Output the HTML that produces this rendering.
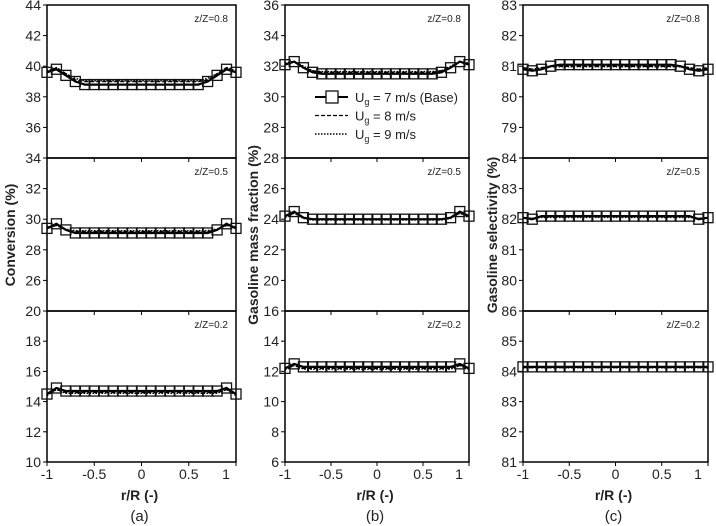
<!DOCTYPE html>
<html><head><meta charset="utf-8">
<style>
html,body{margin:0;padding:0;background:#fff;}
svg{display:block;font-family:"Liberation Sans",sans-serif;}
</style></head>
<body>
<svg id="chart" width="716" height="526" viewBox="0 0 716 526" xmlns="http://www.w3.org/2000/svg"></svg>
<script>
const rValues = [-1,-0.9,-0.8,-0.7,-0.6,-0.5,-0.4,-0.3,-0.2,-0.1,0,0.1,0.2,0.3,0.4,0.5,0.6,0.7,0.8,0.9,1];
const xTicks = [-1,-0.5,0,0.5,1];
const xTickLabels = ["-1","-0.5","0","0.5","1"];
const zLabels = ["z/Z=0.8","z/Z=0.5","z/Z=0.2"];
const convTopBase = [39.6,39.8,39.4,39.0,38.8,38.8,38.8,38.8,38.8,38.8,38.8,38.8,38.8,38.8,38.8,38.8,38.8,39.0,39.4,39.8,39.6];
const convTopU8 = [39.6,39.9,39.5,39.1,39.0,39.0,39.0,39.0,39.0,39.0,39.0,39.0,39.0,39.0,39.0,39.0,39.0,39.1,39.5,39.9,39.6];
const convTopU9 = [39.7,39.9,39.5,39.2,39.05,39.05,39.05,39.05,39.05,39.05,39.05,39.05,39.05,39.05,39.05,39.05,39.05,39.2,39.5,39.9,39.7];
const convMidBase = [29.4,29.7,29.3,29.1,29.1,29.1,29.1,29.1,29.1,29.1,29.1,29.1,29.1,29.1,29.1,29.1,29.1,29.1,29.3,29.7,29.4];
const convMidU8 = [29.4,29.6,29.3,29.2,29.2,29.2,29.2,29.2,29.2,29.2,29.2,29.2,29.2,29.2,29.2,29.2,29.2,29.2,29.3,29.6,29.4];
const convMidU9 = [29.5,29.6,29.35,29.25,29.25,29.25,29.25,29.25,29.25,29.25,29.25,29.25,29.25,29.25,29.25,29.25,29.25,29.25,29.35,29.6,29.5];
const convBotBase = [14.5,14.9,14.7,14.7,14.7,14.7,14.7,14.7,14.7,14.7,14.7,14.7,14.7,14.7,14.7,14.7,14.7,14.7,14.7,14.9,14.5];
const convBotU8 = [14.5,14.8,14.6,14.6,14.6,14.6,14.6,14.6,14.6,14.6,14.6,14.6,14.6,14.6,14.6,14.6,14.6,14.6,14.6,14.8,14.5];
const convBotU9 = [14.4,14.8,14.55,14.55,14.55,14.55,14.55,14.55,14.55,14.55,14.55,14.55,14.55,14.55,14.55,14.55,14.55,14.55,14.55,14.8,14.4];
const gasTopBase = [32.1,32.3,31.9,31.6,31.5,31.5,31.5,31.5,31.5,31.5,31.5,31.5,31.5,31.5,31.5,31.5,31.5,31.6,31.9,32.3,32.1];
const gasTopU8 = [32.1,32.3,31.9,31.7,31.6,31.6,31.6,31.6,31.6,31.6,31.6,31.6,31.6,31.6,31.6,31.6,31.6,31.7,31.9,32.3,32.1];
const gasTopU9 = [32.2,32.3,32.0,31.7,31.65,31.65,31.65,31.65,31.65,31.65,31.65,31.65,31.65,31.65,31.65,31.65,31.65,31.7,32.0,32.3,32.2];
const gasMidBase = [24.2,24.5,24.1,24.0,24.0,24.0,24.0,24.0,24.0,24.0,24.0,24.0,24.0,24.0,24.0,24.0,24.0,24.0,24.1,24.5,24.2];
const gasMidU8 = [24.2,24.4,24.1,24.0,24.0,24.0,24.0,24.0,24.0,24.0,24.0,24.0,24.0,24.0,24.0,24.0,24.0,24.0,24.1,24.4,24.2];
const gasMidU9 = [24.1,24.4,24.05,23.95,23.95,23.95,23.95,23.95,23.95,23.95,23.95,23.95,23.95,23.95,23.95,23.95,23.95,23.95,24.05,24.4,24.1];
const gasBotBase = [12.2,12.5,12.3,12.3,12.3,12.3,12.3,12.3,12.3,12.3,12.3,12.3,12.3,12.3,12.3,12.3,12.3,12.3,12.3,12.5,12.2];
const gasBotU8 = [12.2,12.4,12.2,12.2,12.2,12.2,12.2,12.2,12.2,12.2,12.2,12.2,12.2,12.2,12.2,12.2,12.2,12.2,12.2,12.4,12.2];
const gasBotU9 = [12.1,12.4,12.15,12.15,12.15,12.15,12.15,12.15,12.15,12.15,12.15,12.15,12.15,12.15,12.15,12.15,12.15,12.15,12.15,12.4,12.1];
const selTopBase = [80.9,80.85,80.9,81.0,81.05,81.05,81.05,81.05,81.05,81.05,81.05,81.05,81.05,81.05,81.05,81.05,81.05,81.0,80.9,80.85,80.9];
const selTopU8 = [80.95,80.9,80.95,81.0,81.0,81.0,81.0,81.0,81.0,81.0,81.0,81.0,81.0,81.0,81.0,81.0,81.0,81.0,80.95,80.9,80.95];
const selTopU9 = [80.95,80.9,80.95,80.98,80.98,80.98,80.98,80.98,80.98,80.98,80.98,80.98,80.98,80.98,80.98,80.98,80.98,80.98,80.95,80.9,80.95];
const selMidBase = [82.05,82.0,82.1,82.1,82.1,82.1,82.1,82.1,82.1,82.1,82.1,82.1,82.1,82.1,82.1,82.1,82.1,82.1,82.1,82.0,82.05];
const selMidU8 = [82.05,82.02,82.08,82.08,82.08,82.08,82.08,82.08,82.08,82.08,82.08,82.08,82.08,82.08,82.08,82.08,82.08,82.08,82.08,82.02,82.05];
const selMidU9 = [82.05,82.03,82.06,82.06,82.06,82.06,82.06,82.06,82.06,82.06,82.06,82.06,82.06,82.06,82.06,82.06,82.06,82.06,82.06,82.03,82.05];
const selBotBase = [84.15,84.15,84.15,84.15,84.15,84.15,84.15,84.15,84.15,84.15,84.15,84.15,84.15,84.15,84.15,84.15,84.15,84.15,84.15,84.15,84.15];
const selBotU8 = [84.13,84.13,84.13,84.13,84.13,84.13,84.13,84.13,84.13,84.13,84.13,84.13,84.13,84.13,84.13,84.13,84.13,84.13,84.13,84.13,84.13];
const selBotU9 = [84.12,84.12,84.12,84.12,84.12,84.12,84.12,84.12,84.12,84.12,84.12,84.12,84.12,84.12,84.12,84.12,84.12,84.12,84.12,84.12,84.12];
const yRangesA = [[34,44],[24,34],[10,20]];
const yRangesB = [[26,36],[18,28],[6,16]];
const yRangesC = [[78,83],[79,84],[81,86]];
const yTicksA = [[34,36,38,40,42,44],[24,26,28,30,32,34],[10,12,14,16,18,20]];
const yTicksB = [[26,28,30,32,34,36],[18,20,22,24,26,28],[6,8,10,12,14,16]];
const yTicksC = [[78,79,80,81,82,83],[79,80,81,82,83,84],[81,82,83,84,85,86]];

const NS = "http://www.w3.org/2000/svg";
const svg = document.getElementById("chart");
function mk(tag, attrs, parent){
  const e = document.createElementNS(NS, tag);
  for (const k in attrs) e.setAttribute(k, attrs[k]);
  (parent||svg).appendChild(e);
  return e;
}
const panels = [
  {x0:47,x1:236,title:"Conversion (%)",tx:15,letter:"(a)",ranges:yRangesA,ticks:yTicksA,
   data:[[convTopBase,convTopU8,convTopU9],[convMidBase,convMidU8,convMidU9],[convBotBase,convBotU8,convBotU9]],name:"conversion"},
  {x0:285,x1:469,title:"Gasoline mass fraction (%)",tx:258,letter:"(b)",ranges:yRangesB,ticks:yTicksB,
   data:[[gasTopBase,gasTopU8,gasTopU9],[gasMidBase,gasMidU8,gasMidU9],[gasBotBase,gasBotU8,gasBotU9]],name:"gasoline-fraction"},
  {x0:523,x1:708,title:"Gasoline selectivity (%)",tx:497,letter:"(c)",ranges:yRangesC,ticks:yTicksC,
   data:[[selTopBase,selTopU8,selTopU9],[selMidBase,selMidU8,selMidU9],[selBotBase,selBotU8,selBotU9]],name:"gasoline-selectivity"}
];
const rowY = [[5,158],[158,311],[311,462]];
panels.forEach((p,pi)=>{
  const g = mk("g",{});
  
  
  const xs = v => p.x0 + (v+1)/2*(p.x1-p.x0);
  for (let ri=0; ri<3; ri++){
    const [ya,yb] = rowY[ri];
    const [mn,mx] = p.ranges[ri];
    const ys = v => yb - (v-mn)/(mx-mn)*(yb-ya);
    const sub = mk("g",{},g);
    
    
    mk("rect",{x:p.x0,y:ya,width:p.x1-p.x0,height:yb-ya,fill:"none",stroke:"#000","stroke-width":1.5},sub);
    p.ticks[ri].forEach((t,ti)=>{
      const y = ys(t);
      mk("line",{x1:p.x0-4,x2:p.x0,y1:y,y2:y,stroke:"#000","stroke-width":1},sub);
      if (ri<2 && ti===0) return;
      const tl = mk("text",{x:p.x0-6,y:y+5,"text-anchor":"end","font-size":14,fill:"#222"},sub);
      tl.textContent = t;
      
      
    });
    xTicks.forEach(t=>{
      const x = xs(t);
      if (ri>0) mk("line",{x1:x,x2:x,y1:ya,y2:ya+4,stroke:"#000","stroke-width":1},sub);
      if (ri===2) mk("line",{x1:x,x2:x,y1:yb,y2:yb+4,stroke:"#000","stroke-width":1},sub);
    });
    const zl = mk("text",{x:p.x1-8,y:ya+17,"text-anchor":"end","font-size":10,fill:"#222"},sub);
    zl.textContent = zLabels[ri];
    
    
    const [base,u8,u9] = p.data[ri];
    const pts = arr => arr.map((v,i)=>xs(rValues[i]).toFixed(1)+","+ys(v).toFixed(1)).join(" ");
    const l9 = mk("polyline",{points:pts(u9),fill:"none",stroke:"#000","stroke-width":1.5,"stroke-dasharray":"1.5 1.5"},sub);
    
    
    const l8 = mk("polyline",{points:pts(u8),fill:"none",stroke:"#000","stroke-width":1.5,"stroke-dasharray":"4 2"},sub);
    
    
    const l7 = mk("polyline",{points:pts(base),fill:"none",stroke:"#000","stroke-width":2.2},sub);
    
    
    base.forEach((v,i)=>{
      const m = mk("rect",{x:xs(rValues[i])-5,y:ys(v)-5,width:10,height:10,fill:"none",stroke:"#111","stroke-width":1.3},sub);
      
      
    });
  }
  xTicks.forEach((t,i)=>{
    let x = xs(t);
    if (i===4) x -= 10;
    const xl = mk("text",{x:x,y:479,"text-anchor":"middle","font-size":14,fill:"#222"},g);
    xl.textContent = xTickLabels[i];
    
    
  });
  const xt = mk("text",{x:(p.x0+p.x1)/2-2,y:500,"text-anchor":"middle","font-size":14,"font-weight":"bold",fill:"#222"},g);
  xt.textContent = "r/R (-)";
  
  
  const lt = mk("text",{x:(p.x0+p.x1)/2-2,y:521,"text-anchor":"middle","font-size":15,fill:"#222"},g);
  lt.textContent = p.letter;
  
  
  const yt = mk("text",{x:0,y:0,"text-anchor":"middle","font-size":14,"font-weight":"bold",fill:"#222",transform:`translate(${p.tx},235) rotate(-90)`},g);
  yt.textContent = p.title;
  
  
});
const leg = mk("g",{});


const legendItems = [["= 7 m/s (Base)","none",2],["= 8 m/s","4 2",1.3],["= 9 m/s","1.5 1.5",1.5]];
legendItems.forEach((it,i)=>{
  const y = 97 + i*18.5;
  const e = mk("g",{},leg);
  
  
  const ln = mk("line",{x1:315,x2:348,y1:y,y2:y,stroke:"#000","stroke-width":it[2]},e);
  if (it[1]!=="none") ln.setAttribute("stroke-dasharray",it[1]);
  if (i===0) mk("rect",{x:326,y:y-6,width:12,height:12,fill:"#fff",stroke:"#111","stroke-width":1.3},e);
  const t = mk("text",{x:355,y:y+5,"font-size":13,fill:"#222"},e);
  t.innerHTML = 'U<tspan font-size="9" dy="3">g</tspan><tspan dy="-3"> '+it[0]+'</tspan>';
});
</script>
</body></html>
